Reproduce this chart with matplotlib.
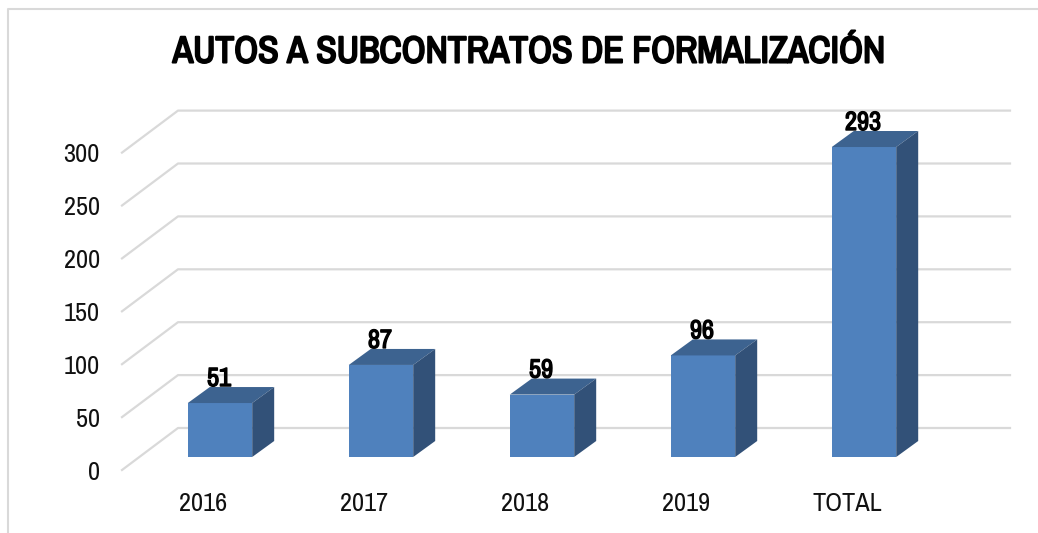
import matplotlib
matplotlib.use("Agg")
import matplotlib.pyplot as plt
import matplotlib.patheffects as pe
from matplotlib.patches import Polygon
from matplotlib.transforms import Affine2D, IdentityTransform
from matplotlib.lines import Line2D

categories = ["2016", "2017", "2018", "2019", "TOTAL"]
values = [51, 87, 59, 96, 293]
yticks = [0, 50, 100, 150, 200, 250, 300]
title = "AUTOS A SUBCONTRATOS DE FORMALIZACIÓN"

plt.rcParams["font.family"] = ["Archivo Narrow", "Liberation Sans"]

W, H = 1038, 533
fig = plt.figure(figsize=(W / 100, H / 100), dpi=100, facecolor="white")
L, R, B0, PX = 122, 954, 470, 1.058
ymax = 320
ax = fig.add_axes([L / W, (H - B0) / H, (R - L) / W, ymax * PX / H])
ax.set_xlim(-0.503, (R - 203) / 161)
ax.set_ylim(0, ymax)
ax.patch.set_visible(False)
for s in ax.spines.values():
    s.set_visible(False)
ax.set_xticks(range(len(categories)), categories)
ax.set_yticks(yticks, [str(v) for v in yticks])
ax.tick_params(axis="both", length=0, labelsize=19, labelcolor="#111111")
ax.tick_params(axis="y", pad=16)
ax.tick_params(axis="x", pad=15.5)

# floor / wall grid, drawn on the axis scale and pushed back by the 3D depth
grid = "#d9d9d9"
back = ax.transData + Affine2D().translate(56, 42)
for v in yticks:
    p0 = ax.transData.transform((ax.get_xlim()[0], v))
    p1 = back.transform((ax.get_xlim()[0], v))
    p2 = back.transform((ax.get_xlim()[1], v))
    ax.add_line(Line2D([p0[0], p1[0], p2[0]], [p0[1], p1[1], p2[1]], color=grid, lw=1.6,
                       transform=IdentityTransform(), zorder=1, clip_on=False))

bold = [pe.withStroke(linewidth=1.0, foreground="black")]
front_c, top_c, side_c = "#4f81bd", "#3d6390", "#325178"
bw = 0.4
front = ax.transData + Affine2D().translate(17, 13)
bd = (22, 16)
for i, (c, v) in enumerate(zip(categories, values)):
    a = front.transform((i - bw / 2, 0))
    b = front.transform((i + bw / 2, v))
    ax.add_patch(Polygon([(a[0], a[1]), (b[0], a[1]), (b[0], b[1]), (a[0], b[1])], closed=True,
                         fc=front_c, ec="none", transform=IdentityTransform(), zorder=3))
    ax.add_patch(Polygon([(a[0], b[1]), (b[0], b[1]), (b[0] + bd[0], b[1] + bd[1]), (a[0] + bd[0], b[1] + bd[1])],
                         closed=True, fc=top_c, ec="none", transform=IdentityTransform(), zorder=3))
    ax.add_patch(Polygon([(b[0], a[1]), (b[0] + bd[0], a[1] + bd[1]), (b[0] + bd[0], b[1] + bd[1]), (b[0], b[1])],
                         closed=True, fc=side_c, ec="none", transform=IdentityTransform(), zorder=3))
    ax.text((a[0] + b[0]) / 2 - 1, b[1] + 13, str(v), transform=IdentityTransform(), ha="center", va="bottom",
            fontsize=19, color="black", zorder=4, path_effects=bold)

fig.text(529 / W, 1 - 52 / H, title, ha="center", va="center", fontsize=27, color="black",
         path_effects=[pe.withStroke(linewidth=1.5, foreground="black")])
fig.add_artist(Line2D([8 / W, 8 / W, 1], [0, 1 - 9 / H, 1 - 9 / H], color=grid, lw=1.5))
fig.savefig("out.png", dpi=100)
